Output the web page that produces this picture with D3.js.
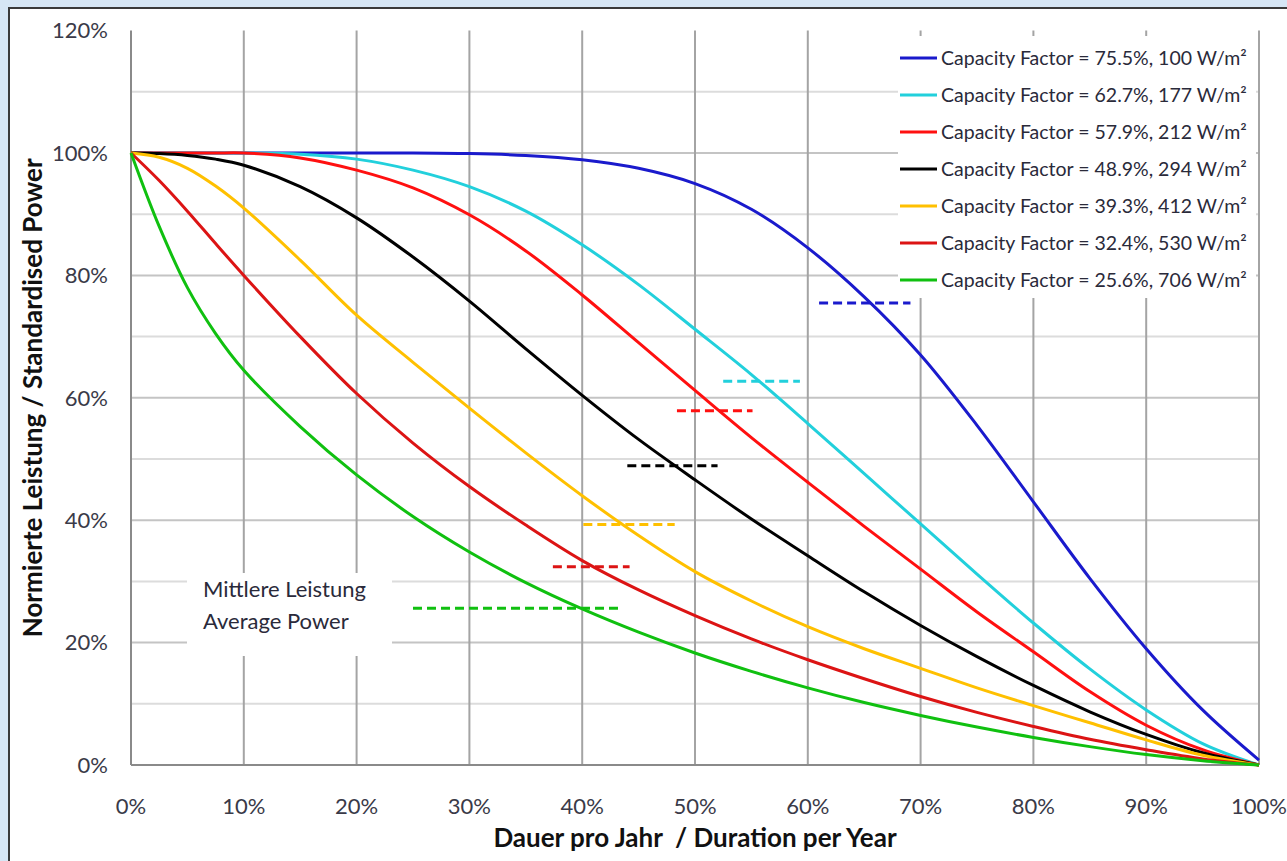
<!DOCTYPE html>
<html>
<head>
<meta charset="utf-8">
<script src="https://cdn.jsdelivr.net/npm/d3@7"></script>
<style>
  html, body { margin: 0; padding: 0; background: #d6e6f5; }
  svg { display: block; font-family: Lato, Calibri, "Open Sans", sans-serif; }
</style>
</head>
<body>
<div id="chart"></div>
<script>
var WIDTH = 1287, HEIGHT = 861
var MARGIN = {TOP: 30.6, RIGHT: 28, BOTTOM: 96, LEFT: 131}

// duration in % of the year
var duration = [0, 2.5, 5, 7.5, 10, 15, 20, 25, 30, 35, 40, 45, 50, 55, 60, 65, 70, 75, 80, 85, 90, 95, 100]

// normalised power in % for every capacity factor
var cf755 = [100, 100, 100, 100, 100, 100, 100, 100, 99.9, 99.6, 98.9, 97.5, 95, 90.8, 84.5, 76.5, 67, 55.5, 43, 30.5, 19, 9, 0.8]
var cf627 = [100, 100, 100, 100, 100, 99.8, 99, 97.2, 94.5, 90.5, 85, 78.5, 71.2, 63.8, 55.8, 47.6, 39.4, 31.2, 23.2, 15.7, 9, 3.5, 0]
var cf579 = [100, 100, 100, 100, 100, 99.2, 97.2, 94.3, 89.9, 84, 76.8, 69, 61.2, 53.5, 46.2, 39, 32, 25, 18.5, 12, 6.5, 2.5, 0]
var cf489 = [100, 99.9, 99.6, 99, 98, 94.5, 89.4, 83, 75.8, 68, 60.4, 53.2, 46.6, 40.2, 34.2, 28.3, 22.8, 17.7, 13, 8.7, 5, 2, 0]
var cf393 = [100, 99.3, 97.5, 94.6, 91, 82.5, 73.5, 65.8, 58.3, 51, 44, 37.5, 31.6, 26.8, 22.6, 19, 15.8, 12.6, 9.7, 6.9, 4.1, 1.6, 0]
var cf324 = [100, 95.5, 90.5, 85.2, 80, 70, 60.7, 52.6, 45.5, 39.2, 33.4, 28.6, 24.4, 20.6, 17.2, 14.1, 11.2, 8.6, 6.3, 4.2, 2.5, 1, 0]
var cf256 = [100, 88, 78, 70.5, 64.5, 55.3, 47.4, 40.6, 34.8, 29.8, 25.5, 21.7, 18.3, 15.3, 12.6, 10.2, 8.1, 6.2, 4.5, 3, 1.7, 0.7, 0]

var seriesValues = [cf755, cf627, cf579, cf489, cf393, cf324, cf256]
var seriesNames = [
  "Capacity Factor = 75.5%, 100 W/m²",
  "Capacity Factor = 62.7%, 177 W/m²",
  "Capacity Factor = 57.9%, 212 W/m²",
  "Capacity Factor = 48.9%, 294 W/m²",
  "Capacity Factor = 39.3%, 412 W/m²",
  "Capacity Factor = 32.4%, 530 W/m²",
  "Capacity Factor = 25.6%, 706 W/m²"
]
var seriesColors = ["#1a1acc", "#22d0dc", "#ff1010", "#000000", "#ffc000", "#dc1414", "#10c010"]

// average power (dashed) and the duration range where each dash is drawn
var avgPower = [75.5, 62.7, 57.9, 48.9, 39.3, 32.4, 25.6]
var avgFrom = [61, 52.5, 48.4, 44, 40.1, 37.4, 25]
var avgTo = [69.1, 59.3, 55.1, 52, 48.2, 44.2, 43.2]

var xTicks = [0, 10, 20, 30, 40, 50, 60, 70, 80, 90, 100]
var yTicks = [0, 20, 40, 60, 80, 100, 120]
var yMinor = [10, 30, 50, 70, 90, 110]

const svg = d3.select("#chart").append("svg")
  .attr("width", WIDTH)
  .attr("height", HEIGHT)

// white panel with dark frame
svg.append("rect")
  .attr("x", 9).attr("y", 8)
  .attr("width", WIDTH + 20).attr("height", HEIGHT + 20)
  .attr("fill", "white")
  .attr("stroke", "#3a3a3a")
  .attr("stroke-width", 2)

var x = d3.scaleLinear().domain([0, 100]).range([MARGIN.LEFT, WIDTH - MARGIN.RIGHT])
var y = d3.scaleLinear().domain([0, 120]).range([HEIGHT - MARGIN.BOTTOM, MARGIN.TOP])

// horizontal grid
svg.append("g").selectAll("line").data(yMinor).join("line")
  .attr("x1", x(0)).attr("x2", x(100))
  .attr("y1", d => y(d)).attr("y2", d => y(d))
  .attr("stroke", "#dcdcdc").attr("stroke-width", 2)

svg.append("g").selectAll("line").data(yTicks.filter(d => d > 0 && d < 120)).join("line")
  .attr("x1", x(0)).attr("x2", x(100))
  .attr("y1", d => y(d)).attr("y2", d => y(d))
  .attr("stroke", "#c4c4c4").attr("stroke-width", 2)

// vertical grid
svg.append("g").selectAll("line").data(xTicks).join("line")
  .attr("x1", d => x(d)).attr("x2", d => x(d))
  .attr("y1", y(120)).attr("y2", y(0))
  .attr("stroke", d => (d == 0 ? "#8a8a8a" : "#a4a4a4"))
  .attr("stroke-width", 2)

// bottom axis line
svg.append("line")
  .attr("x1", x(0)).attr("x2", x(100))
  .attr("y1", y(0)).attr("y2", y(0))
  .attr("stroke", "#8a8a8a").attr("stroke-width", 2)

// tick labels
svg.append("g").selectAll("text").data(yTicks).join("text")
  .attr("x", x(0) - 23)
  .attr("y", d => y(d))
  .attr("dy", "0.35em")
  .attr("text-anchor", "end")
  .attr("font-size", 22)
  .attr("fill", "#3a3a48")
  .text(d => d + "%")

svg.append("g").selectAll("text").data(xTicks).join("text")
  .attr("x", d => x(d))
  .attr("y", 806)
  .attr("dy", "0.35em")
  .attr("text-anchor", "middle")
  .attr("font-size", 22)
  .attr("fill", "#3a3a48")
  .text(d => d + "%")

// axis titles
svg.append("text")
  .attr("x", (x(0) + x(100)) / 2)
  .attr("y", 838)
  .attr("dy", "0.35em")
  .attr("text-anchor", "middle")
  .attr("font-size", 26)
  .attr("font-weight", "bold")
  .attr("fill", "#111")
  .attr("xml:space", "preserve")
  .text("Dauer pro Jahr  / Duration per Year")

svg.append("text")
  .attr("transform", `translate(33, ${(y(0) + y(120)) / 2}) rotate(-90)`)
  .attr("dy", "0.35em")
  .attr("text-anchor", "middle")
  .attr("font-size", 26)
  .attr("font-weight", "bold")
  .attr("fill", "#111")
  .text("Normierte Leistung / Standardised Power")

// annotation box "Mittlere Leistung / Average Power"
svg.append("rect")
  .attr("x", 187).attr("y", 573).attr("width", 205).attr("height", 83)
  .attr("fill", "white")
svg.append("text")
  .attr("x", 203).attr("y", 589).attr("dy", "0.35em")
  .attr("font-size", 22).attr("fill", "#2a2a3a")
  .text("Mittlere Leistung")
svg.append("text")
  .attr("x", 203).attr("y", 621).attr("dy", "0.35em")
  .attr("font-size", 22).attr("fill", "#2a2a3a")
  .text("Average Power")

// average power dashes
svg.append("g").selectAll("line").data(avgPower).join("line")
  .attr("x1", (d, i) => x(avgFrom[i]))
  .attr("x2", (d, i) => x(avgTo[i]))
  .attr("y1", d => y(d)).attr("y2", d => y(d))
  .attr("stroke", (d, i) => seriesColors[i])
  .attr("stroke-width", 3)
  .attr("stroke-dasharray", "9,5")

// duration curves
var line = d3.line()
  .x(d => x(d[0]))
  .y(d => y(d[1]))
  .curve(d3.curveCatmullRom.alpha(0.5))

svg.append("g").selectAll("path").data(seriesValues).join("path")
  .attr("d", vals => line(vals.map((v, i) => [duration[i], v])))
  .attr("fill", "none")
  .attr("stroke", (d, i) => seriesColors[i])
  .attr("stroke-width", 3)

// legend
var legend = svg.append("g")
legend.append("rect")
  .attr("x", 898).attr("y", 36).attr("width", 358).attr("height", 262)
  .attr("fill", "white")

var rows = legend.selectAll("g").data(seriesNames).join("g")
  .attr("transform", (d, i) => `translate(0, ${58 + i * 37})`)
rows.append("line")
  .attr("x1", 900).attr("x2", 937)
  .attr("stroke", (d, i) => seriesColors[i])
  .attr("stroke-width", 3)
rows.append("text")
  .attr("x", 941).attr("dy", "0.35em")
  .attr("font-size", 19.5)
  .attr("fill", "#2a2a3a")
  .text(d => d)
</script>
</body>
</html>
